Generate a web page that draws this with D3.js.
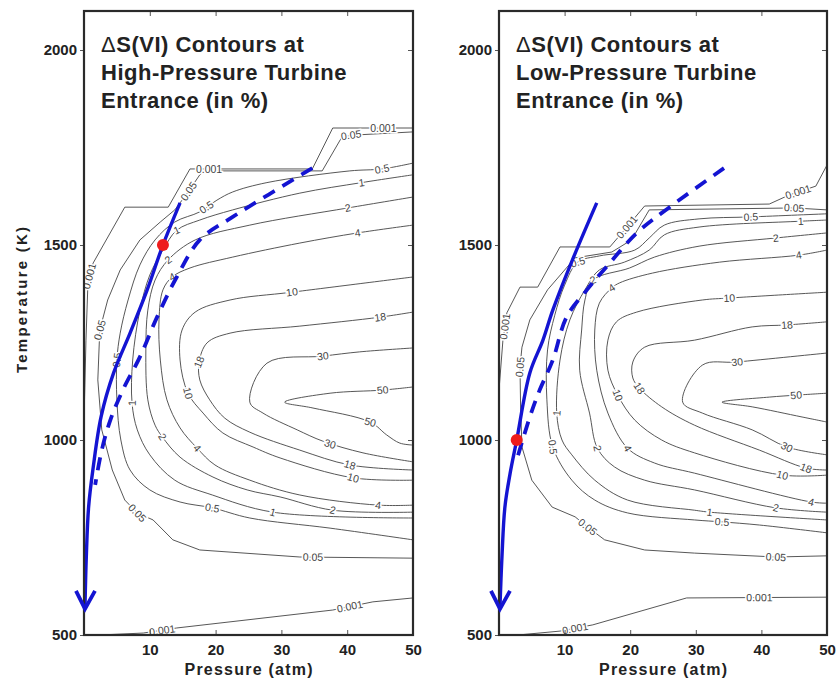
<!DOCTYPE html>
<html>
<head>
<meta charset="utf-8">
<script src="https://cdn.jsdelivr.net/npm/d3@7"></script>
<style>
  body { margin: 0; background: #fff; }
  text { font-family: "Liberation Sans", Arial, Helvetica, sans-serif; }
</style>
</head>
<body>
<svg id="chart" width="839" height="680"></svg>
<script>
// axis ticks
var xTicks = [10, 20, 30, 40, 50];
var yTicks = [500, 1000, 1500, 2000];

var hpTitle = ["S(VI) Contours at", "High-Pressure Turbine", "Entrance (in %)"];
var lpTitle = ["S(VI) Contours at", "Low-Pressure Turbine", "Entrance (in %)"];

// contour lines, [level, [[pressure atm, temperature K], ...]]
var hpContours = [
  ["0.001", [[50,1800],[37.8,1800],[34.7,1695],[16.1,1695],[12.8,1597],[6.2,1597],[1.4,1454],[0.6,1403],[0.3,1256],[0,1051]]],
  ["0.001", [[2.4,500],[9.0,505],[14.1,518],[37.8,564],[43.9,585],[50,595]]],
  ["0.05", [[50,1790],[41.2,1782],[39.2,1777],[36.2,1690],[18.4,1690],[17.6,1680],[15.7,1633],[13.8,1590],[11.6,1559],[8.5,1513],[5.5,1436],[3.6,1359],[2.4,1282],[2.1,1154],[2.7,1026],[4.3,923],[6.2,846],[8.1,813],[10.5,795],[13.5,744],[17.6,718],[32.8,700],[50,697]]],
  ["0.5", [[50,1710],[45.3,1695],[40.4,1690],[27.8,1660],[22.6,1636],[20.2,1615],[17.6,1585],[13.8,1559],[10.8,1513],[8.5,1449],[6.7,1359],[5.5,1274],[5.0,1205],[5.0,1103],[5.6,1000],[7.0,923],[10.0,872],[14.6,841],[19.5,826],[25.2,800],[37.4,774],[50,744]]],
  ["1", [[50,1680],[42.2,1660],[32.8,1633],[22.6,1590],[17.6,1564],[14.1,1538],[12.0,1487],[10.0,1423],[8.5,1333],[7.4,1205],[7.3,1095],[8.1,1026],[10.0,962],[13.8,897],[19.5,859],[28.7,815],[50,800]]],
  ["2", [[50,1623],[40.1,1595],[25.2,1551],[16.9,1513],[12.8,1462],[10.8,1410],[9.7,1333],[9.4,1231],[9.7,1103],[10.8,1038],[11.9,1008],[14.6,956],[19.6,905],[24.8,872],[29.8,854],[37.8,820],[50,815]]],
  ["4", [[50,1551],[41.6,1531],[32.8,1505],[22.6,1469],[16.1,1441],[13.4,1418],[12.0,1385],[11.4,1308],[11.6,1205],[12.6,1103],[14.6,1031],[17.2,979],[19.9,936],[25.2,897],[32.8,859],[44.7,833],[50,833]]],
  ["10", [[50,1418],[31.6,1379],[22.2,1359],[16.9,1328],[14.9,1282],[14.6,1205],[15.8,1120],[18.1,1069],[21.1,1018],[25.7,982],[29.8,954],[40.9,903],[50,897]]],
  ["18", [[50,1328],[45.0,1315],[32.8,1292],[22.2,1274],[18.7,1249],[17.5,1200],[17.6,1154],[19.1,1103],[21.4,1056],[25.2,1020],[32.8,974],[40.4,936],[50,923]]],
  ["30", [[50,1236],[41.9,1226],[36.3,1215],[27.8,1197],[25.2,1097],[27.2,1069],[32.4,1026],[36.3,997],[42.4,967],[50,944]]],
  ["50", [[50,1136],[45.4,1128],[37.4,1120],[30.5,1097],[34.8,1082],[43.5,1046],[46.0,1013],[48.0,992],[50,987]]]
];

var lpContours = [
  ["0.001", [[50,1705],[48.3,1651],[44.2,1628],[41.2,1605],[22.2,1600],[19.5,1546],[16.9,1495],[9.3,1495],[5.9,1392],[3.2,1392],[1.2,1326],[0.6,1256],[0,1128]]],
  ["0.001", [[2.9,500],[9.3,510],[14.3,526],[28.6,595],[50,597]]],
  ["0.05", [[50,1590],[45.0,1595],[22.9,1590],[20.2,1513],[17.2,1482],[11.6,1467],[7.4,1385],[4.7,1308],[3.5,1238],[3.2,1187],[3.3,1077],[3.5,982],[5.0,897],[8.1,828],[11.6,803],[13.5,777],[16.1,744],[22.2,718],[29.8,710],[42.2,700],[50,703]]],
  ["0.5", [[50,1580],[38.4,1572],[30.5,1567],[25.2,1551],[22.9,1518],[20.7,1487],[15.3,1472],[12.0,1456],[10.0,1397],[8.5,1320],[7.4,1231],[7.3,1103],[8.2,982],[11.1,897],[14.6,846],[19.6,813],[29.8,795],[34.0,790],[39.7,782],[50,762]]],
  ["1", [[50,1564],[46.0,1561],[30.5,1546],[25.2,1526],[22.9,1487],[19.1,1456],[15.3,1436],[13.1,1385],[10.8,1308],[9.3,1205],[8.8,1069],[9.6,1000],[11.1,962],[14.6,897],[19.6,846],[29.8,820],[32.1,815],[50,795]]],
  ["2", [[50,1531],[42.2,1518],[30.5,1497],[23.7,1469],[19.9,1441],[14.3,1410],[13.1,1359],[12.6,1282],[12.3,1179],[13.8,1069],[15.0,979],[17.6,931],[22.2,897],[29.8,872],[42.2,826],[50,815]]],
  ["4", [[50,1487],[45.7,1474],[33.6,1456],[23.4,1428],[18.4,1403],[17.2,1390],[15.3,1351],[14.6,1282],[14.9,1179],[16.6,1069],[19.6,979],[23.7,941],[29.8,915],[47.6,841],[50,838]]],
  ["10", [[50,1379],[35.1,1364],[31.0,1359],[21.0,1328],[17.9,1303],[16.6,1256],[16.6,1179],[18.1,1115],[20.7,1051],[24.8,1000],[29.8,967],[43.2,910],[50,910]]],
  ["18", [[50,1303],[43.9,1295],[38.6,1290],[29.8,1256],[22.2,1238],[20.4,1200],[20.4,1159],[21.4,1133],[24.8,1085],[29.8,1038],[39.7,974],[46.8,928],[50,923]]],
  ["30", [[50,1223],[36.3,1200],[31.0,1192],[28.0,1097],[31.0,1069],[38.6,1026],[43.9,982],[50,962]]],
  ["50", [[50,1120],[45.3,1115],[41.2,1110],[34.0,1097],[38.6,1085],[46.2,1059],[50,1046]]]
];

// levels drawn as straight segments (the stepped outer contours)
var angularLevels = ["0.001", "0.05"];

// inline contour labels [level, pressure, temperature]
var hpLabels = [
  ["0.001",45.5,1800],["0.05",40.6,1782],["0.001",19.0,1695],["0.05",15.9,1638],
  ["0.5",45.3,1695],["0.5",18.6,1597],["1",42.2,1660],["1",14.1,1538],
  ["2",40.1,1595],["2",12.8,1462],["4",41.6,1531],["4",13.4,1418],
  ["10",31.6,1379],["18",45.0,1315],["30",36.3,1215],["50",45.4,1128],
  ["0.001",0.8,1420],["0.05",2.4,1282],["0.5",5.0,1205],["1",7.3,1095],
  ["2",11.9,1008],["4",17.2,979],["10",15.8,1120],["18",17.5,1200],
  ["0.05",8.1,813],["0.05",34.8,700],["0.5",19.5,826],["1",28.7,815],
  ["2",37.8,820],["4",44.7,833],["10",40.9,903],["18",40.4,936],
  ["30",37.4,990],["50",43.5,1046],["0.001",11.9,512],["0.001",40.4,573]
];

var lpLabels = [
  ["0.001",45.6,1636],["0.001",19.5,1546],["0.05",45.0,1595],["0.5",38.4,1572],
  ["1",46.0,1561],["2",42.2,1518],["4",45.7,1474],["10",35.1,1364],
  ["18",43.9,1295],["30",36.3,1200],["50",45.3,1115],["0.5",12.0,1456],
  ["2",14.3,1410],["4",17.2,1390],
  ["0.001",0.9,1291],["0.05",3.2,1187],["1",8.8,1069],["0.5",8.2,982],
  ["2",15.0,979],["4",19.6,979],["10",18.1,1115],["18",21.4,1133],
  ["0.05",13.5,777],["0.05",42.2,700],["1",32.1,815],["0.5",34.0,790],
  ["2",42.2,826],["4",47.6,841],["10",43.2,910],["18",46.8,928],
  ["30",43.9,982],["0.001",11.6,517],["0.001",39.7,596]
];

// operating lines and design points
var hpSolid = [[14.6,1608],[12.0,1500],[9.6,1385],[7.0,1274],[4.5,1172],[2.6,1060],[1.4,930],[0.7,828],[0.35,700],[0.15,572]];
var hpDashed = [[34.7,1697],[22.6,1572],[17.6,1513],[14.1,1418],[11.1,1315],[8.5,1213],[5.9,1128],[4.0,1051],[2.7,974],[1.7,885]];
var hpPoint = [12.0, 1500];

var lpSolid = [[14.9,1608],[11.2,1462],[8.2,1333],[6.7,1256],[4.7,1172],[2.7,1000],[1.7,915],[0.9,828],[0.45,700],[0.15,572]];
var lpDashed = [[34.3,1697],[26.0,1597],[21.0,1531],[16.4,1444],[13.4,1385],[10.3,1315],[8.2,1205],[6.2,1128],[4.7,1059],[2.7,949]];
var lpPoint = [2.7, 1000];

var svg = d3.select("#chart");
var y = d3.scaleLinear().domain([500, 2100]).range([635, 11]);

var panels = [
  { x: d3.scaleLinear().domain([0, 50]).range([84, 413]), title: hpTitle, contours: hpContours,
    labels: hpLabels, solid: hpSolid, dashed: hpDashed, point: hpPoint, yTitle: true },
  { x: d3.scaleLinear().domain([0, 50]).range([499, 827]), title: lpTitle, contours: lpContours,
    labels: lpLabels, solid: lpSolid, dashed: lpDashed, point: lpPoint, yTitle: false }
];

var blue = "#1414d2";

// angle of the contour under a label, kept upright
function labelAngle(list, level, px, py, x) {
  var best = Infinity, ang = 0;
  list.filter(function(c) { return c[0] === level; }).forEach(function(c) {
    var p = c[1].map(function(d) { return [x(d[0]), y(d[1])]; });
    for (var i = 0; i < p.length - 1; i++) {
      var dx = p[i+1][0] - p[i][0], dy = p[i+1][1] - p[i][1];
      var L = dx*dx + dy*dy || 1;
      var t = ((px - p[i][0])*dx + (py - p[i][1])*dy) / L;
      t = Math.max(0, Math.min(1, t));
      var d = Math.hypot(px - (p[i][0] + t*dx), py - (p[i][1] + t*dy));
      if (d < best) { best = d; ang = Math.atan2(dy, dx) * 180 / Math.PI; }
    }
  });
  if (ang > 90) ang -= 180;
  if (ang < -90) ang += 180;
  return ang;
}

panels.forEach(function(pn) {
  var x = pn.x;
  var g = svg.append("g");
  var x0 = x.range()[0], x1 = x.range()[1];

  g.append("clipPath").attr("id", "clip" + x0)
    .append("rect").attr("x", x0).attr("y", 11).attr("width", x1 - x0).attr("height", 624);

  var smooth = d3.line()
    .x(function(d) { return x(d[0]); })
    .y(function(d) { return y(d[1]); })
    .curve(d3.curveCatmullRom.alpha(0.5));
  var straight = d3.line()
    .x(function(d) { return x(d[0]); })
    .y(function(d) { return y(d[1]); });

  var plot = g.append("g").attr("clip-path", "url(#clip" + x0 + ")");

  plot.selectAll(".contour")
    .data(pn.contours)
    .enter().append("path")
      .attr("class", "contour")
      .attr("d", function(d) {
        return angularLevels.indexOf(d[0]) >= 0 ? straight(d[1]) : smooth(d[1]);
      })
      .attr("fill", "none")
      .attr("stroke", "#444")
      .attr("stroke-width", 0.9)
      .attr("stroke-linejoin", "round");

  plot.selectAll(".clabel")
    .data(pn.labels)
    .enter().append("text")
      .attr("class", "clabel")
      .attr("transform", function(d) {
        var px = x(d[1]), py = y(d[2]);
        return "translate(" + px + "," + py + ") rotate(" + labelAngle(pn.contours, d[0], px, py, x) + ")";
      })
      .attr("text-anchor", "middle")
      .attr("dy", "0.35em")
      .attr("font-size", 10.5)
      .attr("fill", "#444")
      .attr("stroke", "#fff")
      .attr("stroke-width", 3)
      .attr("paint-order", "stroke")
      .text(function(d) { return d[0]; });

  // dashed and solid operating lines (not clipped, the arrow reaches past the frame)
  g.append("path")
    .attr("d", smooth(pn.dashed))
    .attr("fill", "none")
    .attr("stroke", blue)
    .attr("stroke-width", 3.8)
    .attr("stroke-dasharray", "13,9");

  g.append("path")
    .attr("d", smooth(pn.solid))
    .attr("fill", "none")
    .attr("stroke", blue)
    .attr("stroke-width", 3.4);

  var tip = pn.solid[pn.solid.length - 1];
  var tx = x(tip[0]), ty = y(tip[1]) + 2;

  g.append("circle")
    .attr("cx", x(pn.point[0]))
    .attr("cy", y(pn.point[1]))
    .attr("r", 6)
    .attr("fill", "#ee1c1c");

  // axes
  var bottom = g.append("g").attr("transform", "translate(0,635)")
    .call(d3.axisBottom(x).tickValues(xTicks).tickSizeInner(-5).tickSizeOuter(0).tickPadding(9));
  var top = g.append("g").attr("transform", "translate(0,11)")
    .call(d3.axisTop(x).tickValues([10, 20, 30, 40]).tickSizeInner(-5).tickSizeOuter(0).tickFormat(""));
  var left = g.append("g").attr("transform", "translate(" + x0 + ",0)")
    .call(d3.axisLeft(y).tickValues(yTicks).tickSizeInner(4).tickSizeOuter(0).tickPadding(3)
      .tickFormat(d3.format("d")));
  var right = g.append("g").attr("transform", "translate(" + x1 + ",0)")
    .call(d3.axisRight(y).tickValues([1000, 1500, 2000]).tickSizeInner(-5).tickSizeOuter(0).tickFormat(""));

  [bottom, top, left, right].forEach(function(a) {
    a.select(".domain").remove();
    a.selectAll("line").attr("stroke", "#555");
    a.selectAll("text")
      .attr("font-family", "Liberation Sans, Arial, sans-serif")
      .attr("font-size", 15)
      .attr("font-weight", "bold")
      .attr("fill", "#222");
  });

  g.append("rect")
    .attr("x", x0).attr("y", 11)
    .attr("width", x1 - x0).attr("height", 624)
    .attr("fill", "none")
    .attr("stroke", "#2a2a2a")
    .attr("stroke-width", 2.2);

  // arrow head at the low end of the solid line
  g.append("path")
    .attr("d", "M" + (tx - 9) + "," + (ty - 18) + "L" + tx + "," + ty + "L" + (tx + 10) + "," + (ty - 18))
    .attr("fill", "none")
    .attr("stroke", blue)
    .attr("stroke-width", 3.8)
    .attr("stroke-linejoin", "miter");

  g.append("text")
    .attr("x", (x0 + x1) / 2)
    .attr("y", 675)
    .attr("text-anchor", "middle")
    .attr("font-size", 16)
    .attr("font-weight", "bold")
    .attr("fill", "#222")
    .attr("textLength", 128)
    .attr("lengthAdjust", "spacing")
    .text("Pressure (atm)");

  if (pn.yTitle) {
    g.append("text")
      .attr("transform", "translate(27,300) rotate(-90)")
      .attr("text-anchor", "middle")
      .attr("font-size", 15)
      .attr("font-weight", "bold")
      .attr("fill", "#222")
      .attr("textLength", 146)
      .attr("lengthAdjust", "spacing")
      .text("Temperature (K)");
  }

  var title = g.append("text")
    .attr("font-size", 22)
    .attr("font-weight", "bold")
    .attr("fill", "#222")
    .attr("letter-spacing", 0.5);
  pn.title.forEach(function(t, i) {
    var ts = title.append("tspan")
      .attr("x", x0 + 17)
      .attr("y", 52 + i * 28);
    if (i === 0) {
      ts.append("tspan").attr("font-weight", "normal").text("\u0394");
      ts.append("tspan").text(t);
    } else {
      ts.text(t);
    }
  });
});
</script>
</body>
</html>
